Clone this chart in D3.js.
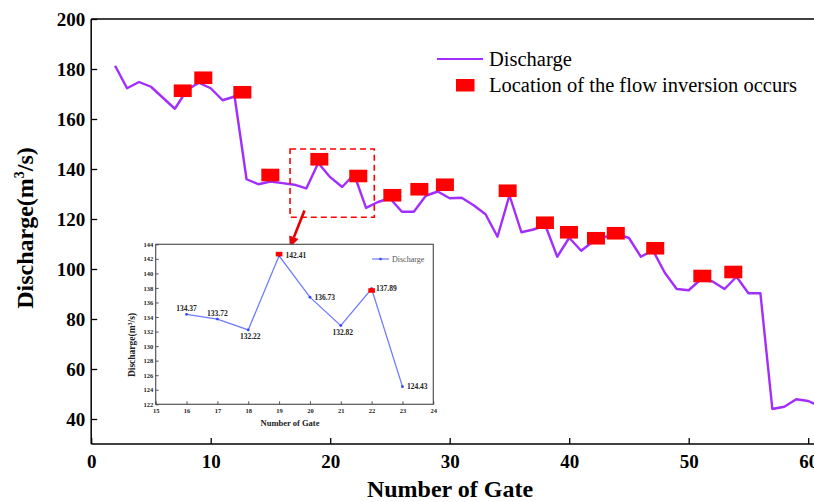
<!DOCTYPE html>
<html><head><meta charset="utf-8">
<script src="https://cdn.jsdelivr.net/npm/d3@7"></script>
<style>
body{margin:0;background:#fff}
svg{display:block;font-family:"Liberation Serif","Times New Roman",serif}
</style>
</head><body>
<svg id="c" width="814" height="502"></svg>
<script>
// ---------- data ----------
const gates = [2,3,4,5,6,7,8,9,10,11,12,13,14,15,16,17,18,19,20,21,22,23,24,25,26,27,28,29,30,31,32,33,34,35,36,37,38,39,40,41,42,43,44,45,46,47,48,49,50,51,52,53,54,55,56,57,58,59,60,61];
const discharge = [181.3,172.3,174.8,172.9,168.5,164.1,171.5,174.5,172.3,167.5,169.0,135.9,133.9,135.0,134.37,133.72,132.22,142.41,136.73,132.82,137.89,124.43,126.8,128.3,122.9,122.9,129.3,131.0,128.3,128.5,125.5,121.9,112.9,129.5,114.7,115.8,117.5,104.9,112.5,107.3,111.0,112.8,114.0,112.4,104.9,107.5,98.5,92.0,91.5,95.8,95.0,92.0,96.9,90.3,90.3,44.0,44.9,47.9,47.2,45.0];
const inversionGate  = [7.66,9.38,12.65,14.99,19.09,22.35,25.2,27.46,29.6,34.85,37.97,39.98,42.24,43.9,47.2,51.14,53.73];
const inversionValue = [171.3,176.5,170.7,137.6,143.9,137.2,129.5,131.9,133.7,131.3,118.5,114.7,112.3,114.3,108.3,97.2,98.8];
const xTicks = [0,10,20,30,40,50,60];
const yTicks = [40,60,80,100,120,140,160,180,200];
const seriesNames = ["Discharge","Location of the flow inversion occurs"];

const insetGates = [16,17,18,19,20,21,22,23];
const insetDischarge = [134.37,133.72,132.22,142.41,136.73,132.82,137.89,124.43];
const insetInversionGate = [19,22];
const insetInversionValue = [142.65,137.65];
const insetXTicks = [15,16,17,18,19,20,21,22,23,24];
const insetYTicks = [122,124,126,128,130,132,134,136,138,140,142,144];

const zoomGates = [16.64,23.69];
const zoomValues = [120.7,148.0];
const arrowGates = [17.85,16.62];
const arrowValues = [123.4,108.6];

// ---------- main chart ----------
const svg = d3.select("#c");
const x = d3.scaleLinear().domain([0,60]).range([91.2,808.2]);
const y = d3.scaleLinear().domain([30,200]).range([444,19]);
const purple = "#a22dff";
const red = "#ff0000";

// top frame line
svg.append("line").attr("x1",x(0)).attr("x2",814).attr("y1",y(200)).attr("y2",y(200))
  .attr("stroke","#000").attr("stroke-width",1.5);

const xAxis = svg.append("g").attr("transform",`translate(0,${y(30)})`)
  .call(d3.axisBottom(x).tickValues(xTicks).tickSize(-6).tickSizeOuter(0).tickPadding(11));
xAxis.select(".domain").attr("d",`M${x(0)},0H814`);
const yAxis = svg.append("g").attr("transform",`translate(${x(0)},0)`)
  .call(d3.axisLeft(y).tickValues(yTicks).tickSize(-6).tickSizeOuter(0).tickPadding(6));
yAxis.select(".domain").attr("d",`M0,${y(200)}V${y(30)}`);
[xAxis,yAxis].forEach(a=>{
  a.selectAll(".domain").attr("stroke","#000").attr("stroke-width",1.5);
  a.selectAll(".tick line").attr("stroke","#000").attr("stroke-width",1.3);
  a.selectAll("text").attr("font-family","Liberation Serif").attr("font-weight","bold")
    .attr("font-size",19).attr("fill","#000");
});

svg.append("text").attr("x",450).attr("y",497).attr("text-anchor","middle")
  .attr("font-size",24).attr("font-weight","bold").text("Number of Gate");
const yt = svg.append("text").attr("transform","translate(33,228) rotate(-90)")
  .attr("text-anchor","middle").attr("font-size",24).attr("font-weight","bold");
yt.append("tspan").text("Discharge(m");
yt.append("tspan").attr("font-size",14).attr("dy",-9).text("3");
yt.append("tspan").attr("dy",9).text("/s)");

// line
const line = d3.line().x((d,i)=>x(gates[i])).y(d=>y(d));
svg.append("path").datum(discharge).attr("d",line).attr("fill","none")
  .attr("stroke",purple).attr("stroke-width",2.4).attr("stroke-linejoin","round");

// inversion markers
svg.append("g").selectAll("rect").data(inversionGate).join("rect")
  .attr("x",(d)=>x(d)-9).attr("y",(d,i)=>y(inversionValue[i])-6.3)
  .attr("width",18).attr("height",12.6).attr("fill",red);

// zoom box
svg.append("rect").attr("x",x(zoomGates[0])).attr("y",y(zoomValues[1]))
  .attr("width",x(zoomGates[1])-x(zoomGates[0])).attr("height",y(zoomValues[0])-y(zoomValues[1]))
  .attr("fill","none").attr("stroke",red).attr("stroke-width",1.6).attr("stroke-dasharray","6,4");

// arrow
{
  const x1=x(arrowGates[0]), y1=y(arrowValues[0]), x2=x(arrowGates[1]), y2=y(arrowValues[1]);
  const ang=Math.atan2(y2-y1,x2-x1), L=11, W=5;
  const bx=x2-L*Math.cos(ang), by=y2-L*Math.sin(ang);
  svg.append("line").attr("x1",x1).attr("y1",y1).attr("x2",bx).attr("y2",by)
    .attr("stroke","#e60000").attr("stroke-width",2.6);
  const px=-Math.sin(ang), py=Math.cos(ang);
  svg.append("path").attr("d",`M${x2},${y2}L${bx+W*px},${by+W*py}L${bx-W*px},${by-W*py}Z`).attr("fill","#e60000");
}

// legend
const lg = svg.append("g");
lg.append("line").attr("x1",437).attr("x2",483).attr("y1",59).attr("y2",59).attr("stroke",purple).attr("stroke-width",2);
lg.append("text").attr("x",489).attr("y",66).attr("font-size",20.5).text(seriesNames[0]);
lg.append("rect").attr("x",456).attr("y",79).attr("width",18.5).attr("height",12.5).attr("fill",red);
lg.append("text").attr("x",489).attr("y",91.5).attr("font-size",20.5).text(seriesNames[1]);

// ---------- inset ----------
const ix = d3.scaleLinear().domain([15,24]).range([155.7,433.3]);
const iy = d3.scaleLinear().domain([122,144]).range([404.3,244.3]);
const blue = "#6e7bff";
const ins = svg.append("g");
ins.append("rect").attr("x",ix(15)).attr("y",iy(144)).attr("width",ix(24)-ix(15)).attr("height",iy(122)-iy(144))
  .attr("fill","#fff").attr("stroke","#555").attr("stroke-width",1.2);
const ixa = ins.append("g").attr("transform",`translate(0,${iy(122)})`)
  .call(d3.axisBottom(ix).tickValues(insetXTicks).tickSize(-3).tickSizeOuter(0).tickPadding(4));
const iya = ins.append("g").attr("transform",`translate(${ix(15)},0)`)
  .call(d3.axisLeft(iy).tickValues(insetYTicks).tickSize(-3).tickSizeOuter(0).tickPadding(2.5));
[ixa,iya].forEach(a=>{
  a.select(".domain").remove();
  a.selectAll(".tick line").attr("stroke","#444").attr("stroke-width",0.9);
  a.selectAll("text").attr("font-family","Liberation Serif").attr("font-weight","bold").attr("font-size",6.5).attr("fill","#222");
});
ins.append("text").attr("x",290).attr("y",426).attr("text-anchor","middle")
  .attr("font-size",8.5).attr("font-weight","bold").attr("fill","#222").text("Number of Gate");
const iyt = ins.append("text").attr("transform","translate(135,345) rotate(-90)")
  .attr("text-anchor","middle").attr("font-size",9.5).attr("font-weight","bold").attr("fill","#222");
iyt.append("tspan").text("Discharge(m");
iyt.append("tspan").attr("font-size",6).attr("dy",-3.5).text("3");
iyt.append("tspan").attr("dy",3.5).text("/s)");

const iline = d3.line().x((d,i)=>ix(insetGates[i])).y(d=>iy(d));
ins.append("path").datum(insetDischarge).attr("d",iline).attr("fill","none")
  .attr("stroke",blue).attr("stroke-width",1.3);
ins.append("g").selectAll("circle").data(insetDischarge).join("circle")
  .attr("cx",(d,i)=>ix(insetGates[i])).attr("cy",d=>iy(d)).attr("r",1.4).attr("fill","#3344ff");
ins.append("g").selectAll("rect").data(insetInversionGate).join("rect")
  .attr("x",d=>ix(d)-3.3).attr("y",(d,i)=>iy(insetInversionValue[i])-2.3)
  .attr("width",6.6).attr("height",4.6).attr("fill",red);

const placement = {16:"above",17:"above",18:"below",19:"right",20:"right",21:"below",22:"right",23:"right"};
ins.append("g").selectAll("text").data(insetDischarge).join("text")
  .attr("font-size",7.5).attr("font-weight","bold").attr("fill","#222")
  .each(function(d,i){
    const g=insetGates[i], p=placement[g], px=ix(g), py=iy(d), t=d3.select(this);
    if(p==="above") t.attr("x",px).attr("y",py-3).attr("text-anchor","middle");
    else if(p==="below") t.attr("x",px+2).attr("y",py+9.5).attr("text-anchor","middle");
    else t.attr("x",px+(g===19?6.5:4.5)).attr("y",py+2.5).attr("text-anchor","start");
  })
  .text(d=>d.toFixed(2));

// inset legend
ins.append("line").attr("x1",372).attr("x2",389).attr("y1",259).attr("y2",259).attr("stroke",blue).attr("stroke-width",1.2);
ins.append("circle").attr("cx",380.5).attr("cy",259).attr("r",1.3).attr("fill","#3344ff");
ins.append("text").attr("x",392).attr("y",261.8).attr("font-size",8).attr("fill","#555").text(seriesNames[0]);
</script>
</body></html>
